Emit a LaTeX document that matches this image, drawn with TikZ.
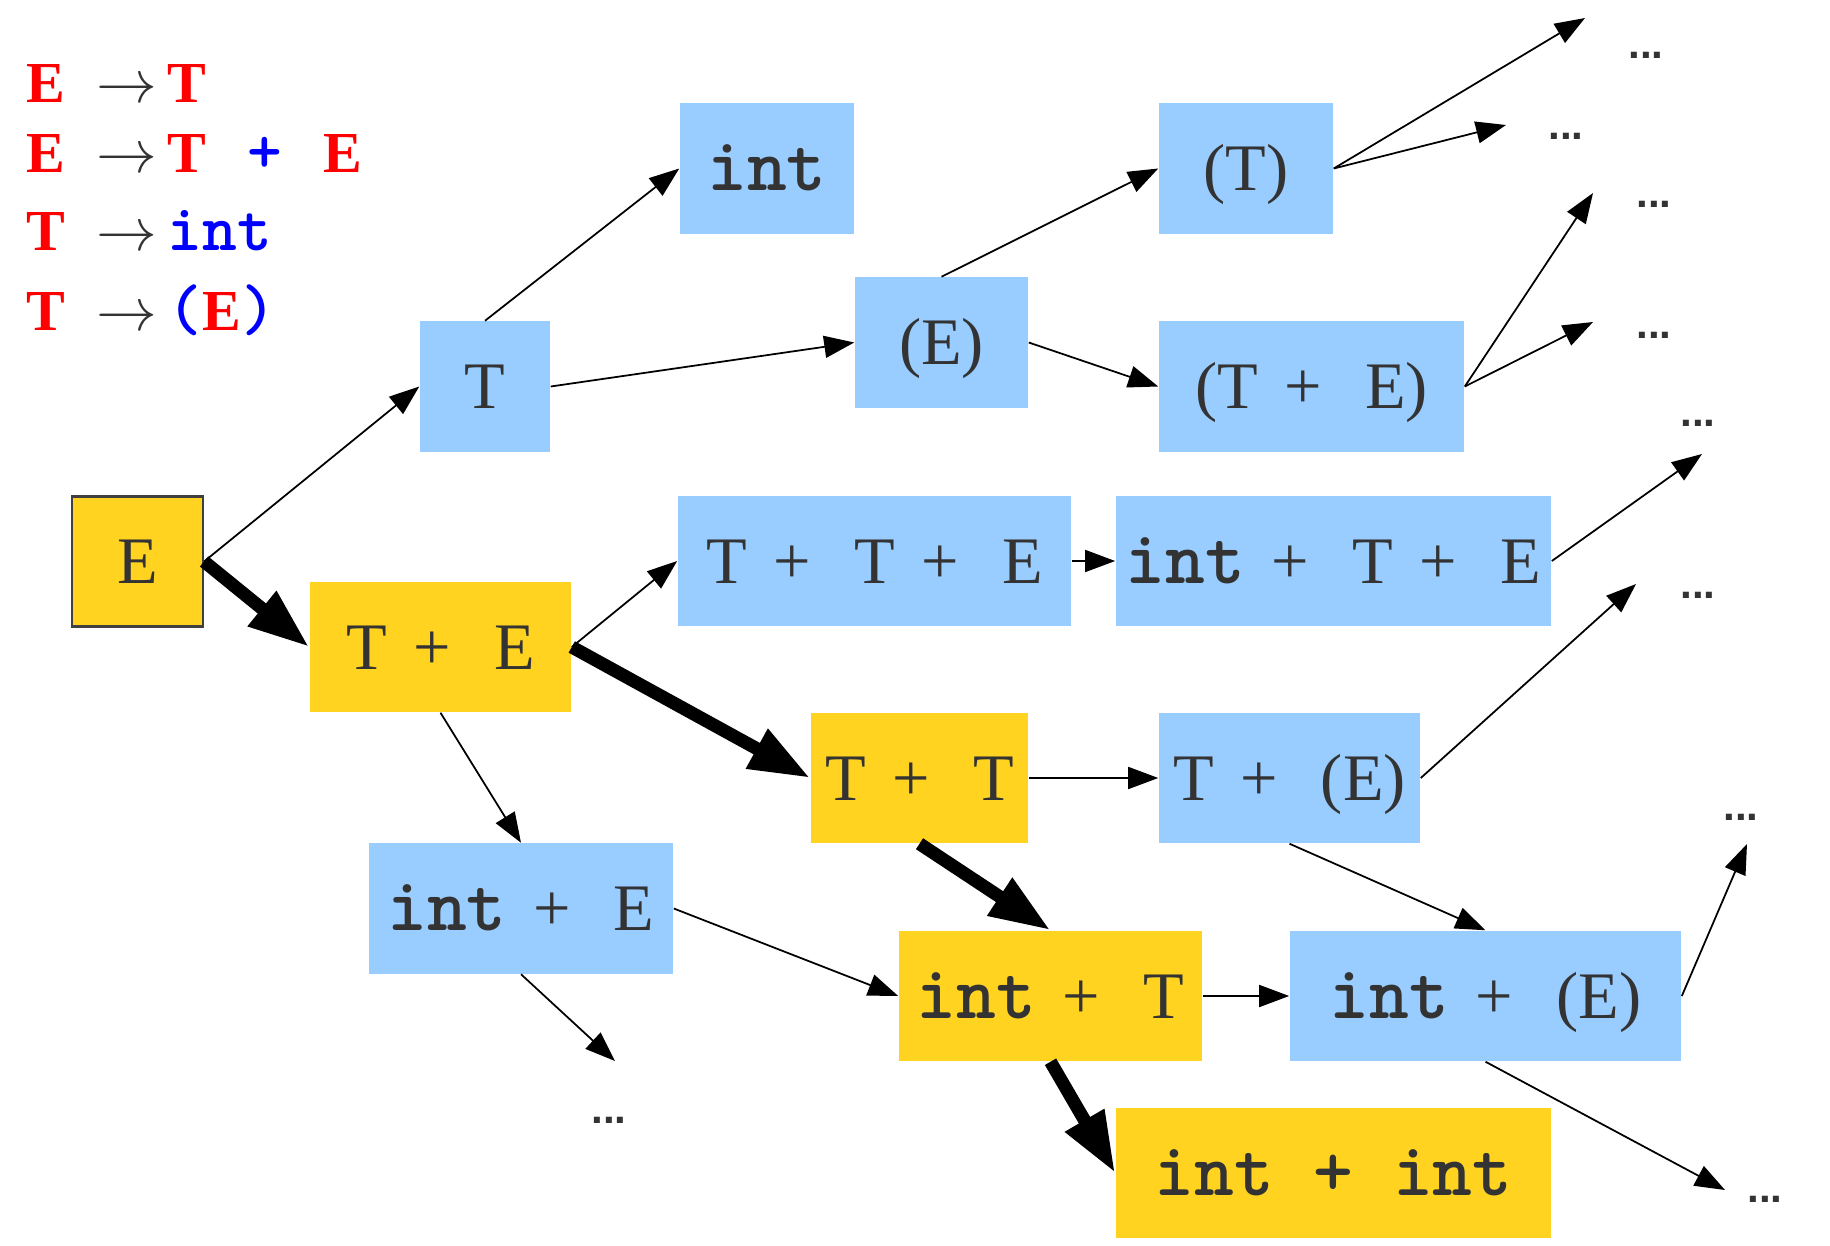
\documentclass[tikz,border=0pt]{standalone}
\usepackage{fontspec}
\setmainfont{Liberation Serif}
\newfontfamily\intfont{lmmonolt10-bold.otf}[Scale=1.14]
\newfontfamily\dotsfont{Liberation Sans}
\usetikzlibrary{arrows.meta}
\definecolor{todo}{HTML}{99CCFF}
\definecolor{taken}{HTML}{FFD320}
\definecolor{ink}{HTML}{333333}
\newcommand{\kw}[1]{{\intfont #1}}
\newcommand{\plusgap}{\hspace{0.4em}+\hspace{0.65em}}
\newcommand{\yields}{\textcolor{ink}{$\rightarrow$}}

\begin{document}
\begin{tikzpicture}[x=0.01cm,y=-0.01cm,
  form/.style={inner sep=0pt,minimum height=1.30cm,text height=0.44cm,text depth=0pt,
    text=ink,font=\fontsize{18.9}{20}\selectfont},
  open/.style={form,fill=todo},
  hit/.style={form,fill=taken},
  branch/.style={draw=black,line width=0.5pt,-{Triangle[length=0.30cm,width=0.22cm]}},
  lead/.style={draw=black,line width=3.7pt,-{Triangle[length=0.61cm,width=0.42cm]}},
  etc/.style={anchor=base,text=ink,font=\dotsfont\bfseries\fontsize{12}{14}\selectfont},
  prod/.style={anchor=base west,inner sep=0pt,font=\fontsize{16.5}{18}\selectfont\bfseries}]
  \useasboundingbox (0,0) rectangle (1830,1246);

  % Grammar
  \node[prod] (g1) at (26,103) {\makebox[0.70cm][l]{\textcolor{red}{E}}\makebox[0.71cm][l]{\yields}\textcolor{red}{T}};
  \node[prod] (g2) at (26,173) {\makebox[0.70cm][l]{\textcolor{red}{E}}\makebox[0.71cm][l]{\yields}\makebox[0.80cm][l]{\textcolor{red}{T}}\makebox[0.76cm][l]{\textcolor{blue}{\kw{+}}}\textcolor{red}{E}};
  \node[prod] (g3) at (26,251) {\makebox[0.70cm][l]{\textcolor{red}{T}}\makebox[0.71cm][l]{\yields}\textcolor{blue}{\kw{int}}};
  \node[prod] (g4) at (26,331) {\makebox[0.70cm][l]{\textcolor{red}{T}}\makebox[0.71cm][l]{\yields}\textcolor{blue}{\kw{(}}\textcolor{red}{E}\textcolor{blue}{\kw{)}}};

  % Sentential forms
  \node[hit,minimum width=1.31cm,draw=black!75,line width=0.6pt] (E) at (137.5,561.5) {E};
  \node[open,minimum width=1.30cm] (T) at (485,386.5) {T};
  \node[open,minimum width=1.74cm] (int) at (767,168.5) {\kw{int}};
  \node[hit,minimum width=2.61cm] (TE) at (440.5,647) {T\plusgap E};
  \node[open,minimum width=1.73cm] (pE) at (941.5,342.5) {(E)};
  \node[open,minimum width=1.74cm] (pT) at (1246,168.5) {(T)};
  \node[open,minimum width=3.05cm] (pTE) at (1311.5,386.5) {(T\plusgap E)};
  \node[open,minimum width=3.93cm] (TTE) at (874.5,561) {T\plusgap T\plusgap E};
  \node[open,minimum width=4.35cm] (iTE) at (1333.5,561) {\kw{int}\plusgap T\plusgap E};
  \node[hit,minimum width=2.17cm] (TT) at (919.5,778) {T\plusgap T};
  \node[open,minimum width=2.61cm] (TpE) at (1289.5,778) {T\plusgap (E)};
  \node[open,minimum width=3.04cm] (iE) at (521,908.5) {\kw{int}\plusgap E};
  \node[hit,minimum width=3.03cm] (iT) at (1050.5,996) {\kw{int}\plusgap T};
  \node[open,minimum width=3.91cm] (ipE) at (1485.5,996) {\kw{int}\plusgap (E)};
  \node[hit,minimum width=4.35cm] (ii) at (1333.5,1173) {\kw{int + int}};

  % Unexplored continuations
  \node[etc] (d1) at (1646,59) {...};
  \node[etc] (d2) at (1566,140) {...};
  \node[etc] (d3) at (1654,208) {...};
  \node[etc] (d4) at (1654,339) {...};
  \node[etc] (d5) at (1698,427) {...};
  \node[etc] (d6) at (1698,599) {...};
  \node[etc] (d7) at (1741,820) {...};
  \node[etc] (d8) at (1765,1202) {...};
  \node[etc] (d9) at (609,1123) {...};
  \coordinate (t1) at (1585,18);
  \coordinate (t2) at (1506,125);
  \coordinate (t3) at (1593,193);
  \coordinate (t4) at (1593,322);
  \coordinate (t5) at (1702,454);
  \coordinate (t6) at (1636,584);
  \coordinate (t7) at (1747,844);
  \coordinate (t8) at (1725,1190);
  \coordinate (t9) at (615,1061);

  % Derivation steps
  \draw[branch] (E.east) -- (T.west);
  \draw[branch] (T.north) -- (int.west);
  \draw[branch] (T.east) -- (pE.west);
  \draw[branch] (pE.north) -- (pT.west);
  \draw[branch] (pE.east) -- (pTE.west);
  \draw[branch] (pT.east) -- (t1);
  \draw[branch] (pT.east) -- (t2);
  \draw[branch] (pTE.east) -- (t3);
  \draw[branch] (pTE.east) -- (t4);
  \draw[branch] (TE.east) -- (TTE.west);
  \draw[branch] (TE.south) -- (iE.north);
  \draw[branch] (TTE.east) -- (iTE.west);
  \draw[branch] (iTE.east) -- (t5);
  \draw[branch] (TT.east) -- (TpE.west);
  \draw[branch] (TpE.east) -- (t6);
  \draw[branch] (TpE.south) -- (ipE.north);
  \draw[branch] (iE.east) -- (iT.west);
  \draw[branch] (iE.south) -- (t9);
  \draw[branch] (iT.east) -- (ipE.west);
  \draw[branch] (ipE.east) -- (t7);
  \draw[branch] (ipE.south) -- (t8);

  % Leftmost derivation
  \draw[lead] (E.east) -- (TE.west);
  \draw[lead] (TE.east) -- (TT.west);
  \draw[lead] (TT.south) -- (iT.north);
  \draw[lead] (iT.south) -- (ii.west);
\end{tikzpicture}
\end{document}
